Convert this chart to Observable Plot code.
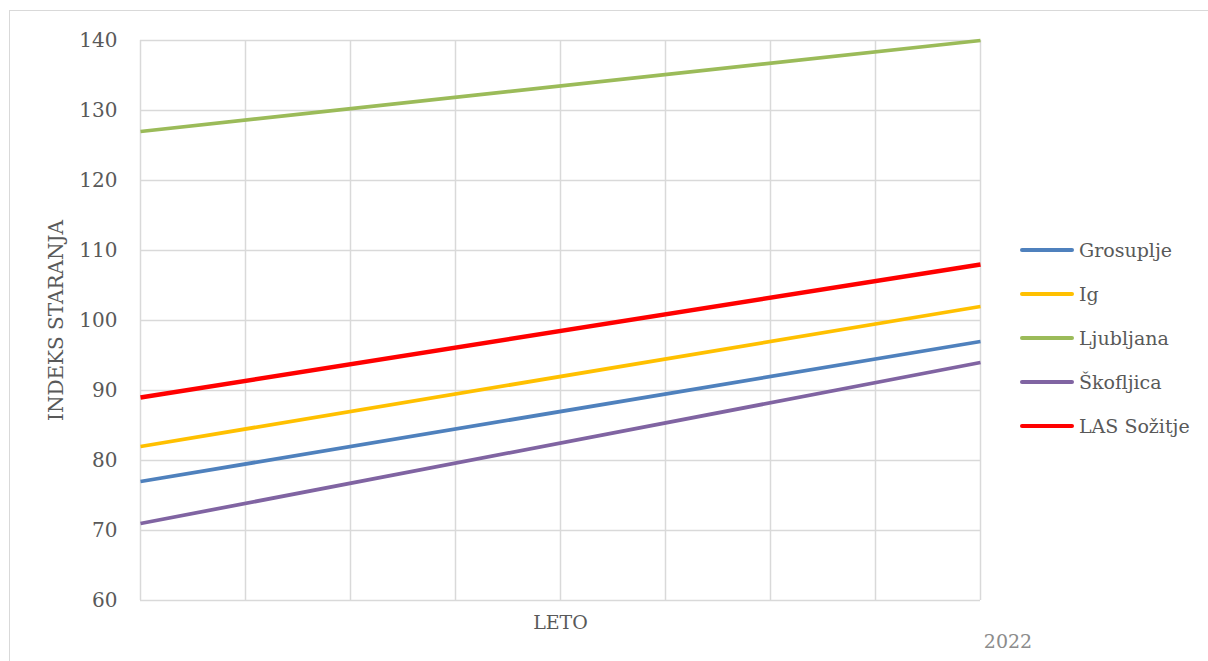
<!DOCTYPE html>
<html>
<head>
<meta charset="utf-8">
<script src="https://cdn.jsdelivr.net/npm/d3@7"></script>
<script src="https://cdn.jsdelivr.net/npm/@observablehq/plot@0.6"></script>
<style>
  html, body { margin: 0; padding: 0; background: #fff; overflow: hidden; }
  #wrap { position: relative; width: 1208px; height: 661px; }
  #frame { position: absolute; left: 9px; top: 10px; width: 1300px; height: 800px; border: 1.5px solid #D9D9D9; box-sizing: border-box; }
  #chart { position: absolute; left: 0; top: 0; }
  #legend { position: absolute; left: 1020px; top: 228px; font-family: "DejaVu Serif", serif; font-size: 19px; color: #595959; }
  .row { display: flex; align-items: center; height: 44px; }
  .sw { width: 54px; height: 4px; border-radius: 2px; margin-right: 5px; }
  #year { position: absolute; left: 978px; top: 630px; width: 60px; text-align: center; font-family: "DejaVu Serif", serif; font-size: 19px; color: #8C8C8C; }
</style>
</head>
<body>
<div id="wrap">
  <div id="frame"></div>
  <div id="chart"></div>
  <div id="legend"></div>
  <div id="year"></div>
</div>
<script>
const series = ["Grosuplje", "Ig", "Ljubljana", "Škofljica", "LAS Sožitje"];
const colors = ["#4F81BD", "#FFC000", "#9BBB59", "#8064A2", "#FF0000"];
const startValues = [77, 82, 127, 71, 89];
const endValues = [97, 102, 140, 94, 108];
const positions = [0, 8];           // first and last category slot
const slots = [0, 1, 2, 3, 4, 5, 6, 7, 8];
const yTicks = [60, 70, 80, 90, 100, 110, 120, 130, 140];
const xLabel = "LETO";
const yLabel = "INDEKS STARANJA";
const yearLabel = "2022";

const data = [];
series.forEach((s, i) => {
  data.push({series: s, x: positions[0], y: startValues[i]});
  data.push({series: s, x: positions[1], y: endValues[i]});
});

const font = "DejaVu Serif, serif";

const chart = Plot.plot({
  width: 1208,
  height: 661,
  marginLeft: 140,
  marginRight: 228,
  marginTop: 40,
  marginBottom: 61,
  style: {fontFamily: font, fontSize: "19px", color: "#595959", background: "transparent"},
  x: {domain: [0, 8], axis: null},
  y: {domain: [60, 140]},
  color: {domain: series, range: colors},
  marks: [
    Plot.gridY(yTicks, {stroke: "#D9D9D9", strokeOpacity: 1, strokeWidth: 1.5}),
    Plot.gridX(slots, {stroke: "#D9D9D9", strokeOpacity: 1, strokeWidth: 1.5}),
    Plot.axisY(yTicks, {tickSize: 0, tickPadding: 23, fontSize: 20, fill: "#595959",
      label: yLabel, labelAnchor: "center", labelArrow: "none", labelOffset: 92}),
    Plot.line(data, {x: "x", y: "y", z: "series", stroke: "series",
      strokeWidth: d => d.series === "LAS Sožitje" ? 4.5 : 3.75, strokeLinecap: "butt"}),
    Plot.text([xLabel], {frameAnchor: "bottom", dy: 28, text: d => d, fontSize: 19, fill: "#595959"})
  ]
});
document.getElementById("chart").appendChild(chart);

const leg = document.getElementById("legend");
series.forEach((s, i) => {
  const row = document.createElement("div");
  row.className = "row";
  const sw = document.createElement("div");
  sw.className = "sw";
  sw.style.background = colors[i];
  const t = document.createElement("span");
  t.textContent = s;
  row.appendChild(sw); row.appendChild(t);
  leg.appendChild(row);
});
document.getElementById("year").textContent = yearLabel;
</script>
</body>
</html>
